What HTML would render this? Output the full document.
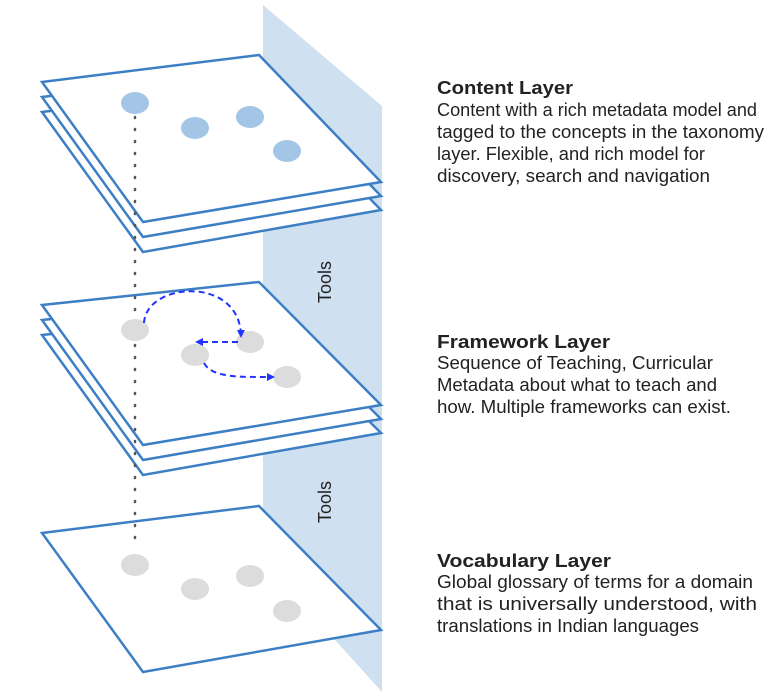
<!DOCTYPE html>
<html><head><meta charset="utf-8"><style>
html,body{margin:0;padding:0;background:#fff;}
svg{display:block;}
text{font-family:"Liberation Sans",Arial,sans-serif;fill:#222;}
</style></head><body>
<svg width="784" height="700" viewBox="0 0 784 700" xmlns="http://www.w3.org/2000/svg">
<defs>
<marker id="ah" markerWidth="8" markerHeight="8" refX="6" refY="4" orient="auto" markerUnits="userSpaceOnUse">
<path d="M0,0 L8,4 L0,8 z" fill="#2233ff"/></marker>
</defs>
<polygon points="263,5 382,106 382,692 263,560" fill="#cfe0f0"/>
<g fill="#fff" stroke="#3d7fc4" stroke-width="2.5" stroke-linejoin="miter">
<polygon points="42,112 259,85 381,210 143,252"/>
<polygon points="42,97 259,70 381,196 143,237"/>
<polygon points="42,82 259,55 381,182 143,222"/>
<polygon points="42,335 259,312 381,433 143,475"/>
<polygon points="42,320 259,297 381,419 143,460"/>
<polygon points="42,305 259,282 381,405 143,445"/>
<polygon points="42,533 259,506 381,630 143,672"/>
</g>
<line x1="135" y1="117" x2="135" y2="548" stroke="#555" stroke-width="2.5" stroke-dasharray="1 11" stroke-linecap="round"/>
<g fill="#a3c6e6">
<ellipse cx="135" cy="103" rx="14" ry="11"/>
<ellipse cx="195" cy="128" rx="14" ry="11"/>
<ellipse cx="250" cy="117" rx="14" ry="11"/>
<ellipse cx="287" cy="151" rx="14" ry="11"/>
</g>
<g fill="#dcdcdc">
<ellipse cx="135" cy="330" rx="14" ry="11"/>
<ellipse cx="195" cy="355" rx="14" ry="11"/>
<ellipse cx="250" cy="342" rx="14" ry="11"/>
<ellipse cx="287" cy="377" rx="14" ry="11"/>
<ellipse cx="135" cy="565" rx="14" ry="11"/>
<ellipse cx="195" cy="589" rx="14" ry="11"/>
<ellipse cx="250" cy="576" rx="14" ry="11"/>
<ellipse cx="287" cy="611" rx="14" ry="11"/>
</g>
<g fill="none" stroke="#2233ff" stroke-width="2" stroke-dasharray="6 4">
<path d="M144,323 C146,282 240,275 241,336" marker-end="url(#ah)"/>
<path d="M238,342 L197,342" marker-end="url(#ah)"/>
<path d="M204,363 C212,378 240,377 273,377" marker-end="url(#ah)"/>
</g>
<text transform="translate(331,282) rotate(-90)" text-anchor="middle" font-size="18">Tools</text>
<text transform="translate(331,502) rotate(-90)" text-anchor="middle" font-size="18">Tools</text>
<g font-size="18">
<text x="437" y="94" font-weight="bold" textLength="136" lengthAdjust="spacingAndGlyphs">Content Layer</text>
<text x="437" y="116" textLength="320" lengthAdjust="spacingAndGlyphs">Content with a rich metadata model and</text>
<text x="437" y="138" textLength="327" lengthAdjust="spacingAndGlyphs">tagged to the concepts in the taxonomy</text>
<text x="437" y="160" textLength="268" lengthAdjust="spacingAndGlyphs">layer. Flexible, and rich model for</text>
<text x="437" y="182" textLength="273" lengthAdjust="spacingAndGlyphs">discovery, search and navigation</text>
<text x="437" y="348" font-weight="bold" textLength="173" lengthAdjust="spacingAndGlyphs">Framework Layer</text>
<text x="437" y="369" textLength="276" lengthAdjust="spacingAndGlyphs">Sequence of Teaching, Curricular</text>
<text x="437" y="391" textLength="280" lengthAdjust="spacingAndGlyphs">Metadata about what to teach and</text>
<text x="437" y="413" textLength="294" lengthAdjust="spacingAndGlyphs">how. Multiple frameworks can exist.</text>
<text x="437" y="567" font-weight="bold" textLength="174" lengthAdjust="spacingAndGlyphs">Vocabulary Layer</text>
<text x="437" y="588" textLength="316" lengthAdjust="spacingAndGlyphs">Global glossary of terms for a domain</text>
<text x="437" y="610" textLength="320" lengthAdjust="spacingAndGlyphs">that is universally understood, with</text>
<text x="437" y="632" textLength="262" lengthAdjust="spacingAndGlyphs">translations in Indian languages</text>
</g>
</svg>
</body></html>
